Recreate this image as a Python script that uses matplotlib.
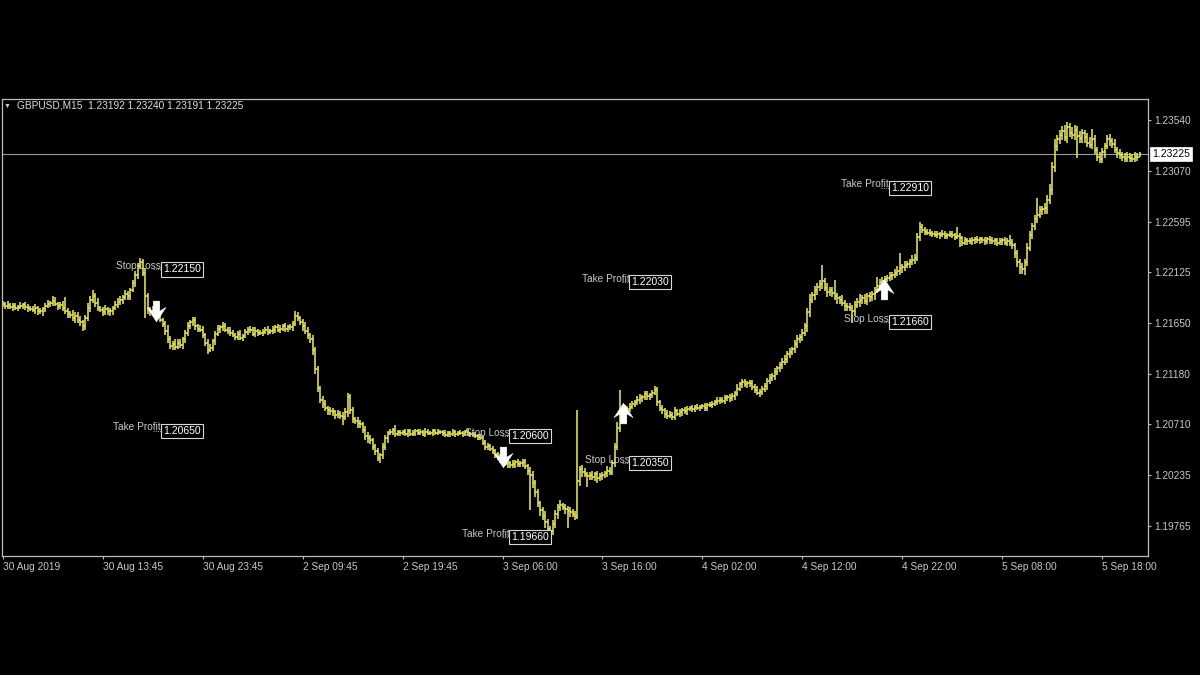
import numpy as np
import matplotlib
matplotlib.use("Agg")
import matplotlib.pyplot as plt
from matplotlib.collections import LineCollection
from matplotlib.path import Path
import matplotlib.transforms as mtransforms

plt.rcParams["font.family"] = ["Liberation Sans", "DejaVu Sans"]

# --- data: GBPUSD M15, prices in pips above 1.19000 ------------------------
BASE = 1.19000
PIP = 0.0001

CLOSE = [
    283, 281, 282, 280, 281, 279, 280, 281, 282, 280, 279, 278, 277, 279, 276, 276, 278, 281, 283, 284,
    286, 283, 281, 282, 279, 276, 274, 273, 270, 272, 268, 266, 262, 270, 279, 287, 290, 284, 279, 277,
    275, 278, 276, 276, 279, 282, 285, 287, 289, 292, 290, 296, 302, 310, 318, 322, 312, 290, 278, 275,
    279, 274, 272, 268, 264, 258, 250, 244, 246, 243, 247, 245, 250, 256, 262, 266, 268, 262, 260, 259,
    254, 247, 240, 242, 248, 255, 260, 261, 262, 259, 258, 256, 254, 252, 255, 251, 253, 257, 259, 259,
    255, 258, 256, 256, 257, 259, 257, 258, 259, 261, 259, 260, 262, 260, 261, 261, 264, 272, 270, 266,
    262, 258, 254, 250, 240, 222, 205, 194, 190, 186, 184, 183, 182, 180, 181, 179, 178, 182, 196, 184,
    176, 174, 172, 171, 166, 160, 158, 156, 150, 146, 140, 142, 150, 158, 163, 164, 166, 162, 164, 163,
    164, 162, 165, 162, 163, 165, 163, 164, 162, 164, 163, 163, 165, 163, 164, 164, 163, 161, 163, 162,
    164, 162, 163, 163, 162, 164, 162, 162, 161, 160, 159, 158, 154, 150, 151, 148, 146, 143, 140, 138,
    136, 134, 135, 133, 134, 136, 134, 135, 136, 132, 128, 124, 116, 108, 98, 91, 86, 80, 74, 72,
    78, 88, 94, 96, 94, 92, 90, 89, 88, 86, 118, 129, 127, 125, 123, 124, 122, 125, 121, 123,
    124, 126, 128, 127, 135, 150, 168, 180, 183, 186, 185, 187, 190, 192, 194, 195, 196, 199, 197, 198,
    200, 203, 192, 186, 184, 181, 179, 180, 178, 183, 181, 182, 184, 183, 185, 186, 185, 187, 186, 187,
    188, 186, 189, 189, 190, 192, 193, 194, 193, 195, 196, 195, 197, 200, 204, 208, 210, 208, 209, 209,
    206, 203, 200, 201, 204, 207, 211, 214, 216, 220, 223, 226, 229, 232, 236, 238, 241, 246, 250, 252,
    256, 262, 275, 287, 291, 296, 299, 301, 304, 298, 294, 296, 293, 290, 288, 287, 284, 281, 280, 279,
    276, 282, 285, 287, 288, 286, 290, 289, 292, 296, 300, 303, 304, 306, 307, 309, 310, 312, 314, 316,
    317, 319, 320, 322, 324, 326, 345, 354, 352, 350, 349, 349, 348, 347, 348, 347, 348, 346, 347, 348,
    347, 345, 346, 344, 340, 342, 341, 341, 342, 343, 342, 343, 342, 341, 343, 342, 341, 342, 340, 341,
    342, 340, 341, 340, 338, 330, 322, 317, 315, 322, 335, 347, 355, 362, 366, 370, 371, 372, 380, 389,
    410, 430, 436, 440, 444, 438, 447, 442, 440, 445, 439, 437, 442, 438, 433, 431, 436, 426, 420, 418,
    424, 430, 436, 434, 432, 426, 423, 421, 420, 418, 420, 419, 418, 420, 419.2, 422.5,
]

WICK_UP = [
    3, 2, 4, 2, 3, 3, 2, 4, 2, 3, 3, 2, 3, 4, 2, 3, 2, 3, 4, 2,
    4, 3, 2, 3, 4, 10, 3, 2, 4, 3, 3, 4, 2, 3, 5, 3, 6, 3, 4, 2,
    3, 4, 2, 3, 2, 4, 3, 3, 2, 4, 3, 2, 3, 4, 3, 4, 3, 4, 3, 2,
    2, 3, 4, 3, 2, 3, 5, 3, 2, 4, 3, 3, 2, 3, 4, 2, 3, 3, 2, 3,
    3, 2, 3, 4, 2, 3, 3, 2, 4, 3, 2, 3, 3, 2, 3, 4, 2, 3, 2, 3,
    2, 3, 2, 3, 3, 2, 3, 2, 3, 2, 3, 3, 2, 3, 2, 3, 3, 4, 3, 2,
    3, 4, 3, 2, 4, 3, 3, 2, 3, 4, 2, 3, 3, 2, 3, 2, 3, 4, 4, 3,
    3, 2, 4, 3, 2, 3, 4, 3, 2, 3, 3, 2, 4, 3, 2, 3, 2, 4, 2, 2,
    2, 3, 2, 2, 3, 2, 2, 3, 2, 4, 3, 2, 2, 2, 3, 2, 2, 3, 2, 2,
    3, 2, 2, 3, 2, 2, 3, 2, 2, 3, 2, 3, 2, 2, 3, 2, 3, 2, 2, 3,
    2, 3, 3, 2, 4, 2, 3, 2, 3, 3, 2, 3, 4, 3, 3, 2, 3, 4, 3, 2,
    4, 3, 3, 5, 2, 3, 3, 4, 3, 2, 66, 3, 4, 3, 2, 3, 4, 2, 3, 3,
    3, 2, 4, 3, 3, 4, 5, 23, 3, 3, 2, 4, 3, 2, 3, 4, 2, 3, 3, 2,
    3, 4, 3, 2, 3, 2, 3, 3, 2, 4, 2, 3, 2, 3, 3, 2, 3, 2, 3, 2,
    2, 3, 2, 3, 3, 2, 3, 2, 2, 3, 2, 3, 3, 2, 4, 2, 3, 3, 2, 3,
    3, 2, 4, 3, 3, 2, 3, 4, 3, 3, 2, 3, 4, 3, 3, 4, 2, 3, 4, 3,
    4, 3, 4, 5, 3, 4, 3, 4, 15, 3, 4, 3, 3, 12, 3, 2, 4, 3, 3, 4,
    3, 4, 3, 5, 3, 4, 3, 4, 3, 3, 8, 3, 4, 3, 3, 4, 3, 3, 4, 14,
    3, 4, 3, 3, 4, 3, 4, 5, 3, 2, 3, 4, 2, 3, 3, 2, 4, 3, 2, 3,
    3, 2, 8, 3, 2, 3, 2, 3, 3, 2, 3, 2, 2, 3, 2, 3, 3, 2, 2, 3,
    2, 3, 3, 6, 3, 2, 3, 3, 4, 3, 5, 4, 3, 4, 15, 4, 3, 5, 4, 5,
    5, 6, 4, 5, 4, 5, 5, 4, 5, 4, 3, 5, 4, 3, 4, 5, 10, 4, 3, 4,
    4, 3, 4, 5, 3, 4, 3, 4, 3, 3, 4, 3, 3, 4, 3, 1.5,
]

WICK_DN = [
    2, 3, 3, 2, 4, 2, 3, 2, 3, 3, 4, 2, 2, 3, 3, 2, 4, 3, 2, 3,
    3, 2, 4, 3, 3, 2, 4, 3, 3, 5, 3, 4, 4, 3, 3, 4, 3, 4, 3, 2,
    3, 2, 3, 4, 3, 2, 3, 3, 4, 2, 3, 3, 2, 3, 4, 3, 3, 20, 4, 3,
    3, 4, 3, 2, 3, 4, 3, 3, 4, 3, 2, 3, 4, 3, 3, 2, 4, 3, 3, 2,
    3, 3, 4, 2, 3, 3, 2, 4, 3, 2, 3, 3, 2, 3, 3, 2, 3, 2, 3, 3,
    2, 3, 3, 2, 3, 2, 3, 2, 3, 3, 2, 3, 2, 3, 3, 2, 3, 2, 3, 3,
    4, 3, 4, 3, 5, 4, 4, 3, 4, 3, 4, 3, 3, 4, 3, 3, 8, 3, 4, 3,
    4, 3, 4, 3, 3, 4, 4, 3, 3, 4, 3, 5, 3, 3, 4, 2, 3, 3, 2, 3,
    2, 2, 3, 2, 2, 3, 2, 2, 2, 3, 2, 2, 3, 2, 2, 2, 3, 2, 2, 3,
    2, 3, 2, 2, 3, 2, 2, 3, 2, 2, 3, 2, 2, 3, 3, 2, 3, 3, 2, 3,
    3, 2, 4, 3, 3, 4, 3, 3, 4, 3, 4, 33, 4, 5, 4, 5, 4, 5, 4, 6,
    4, 3, 5, 4, 3, 4, 15, 4, 3, 4, 3, 4, 5, 3, 10, 4, 3, 4, 5, 3,
    4, 3, 4, 3, 3, 4, 3, 4, 3, 3, 4, 3, 2, 3, 3, 4, 3, 2, 3, 3,
    3, 2, 4, 3, 3, 4, 3, 2, 3, 3, 2, 3, 3, 2, 3, 2, 3, 3, 2, 3,
    2, 3, 3, 2, 3, 2, 3, 3, 2, 3, 2, 3, 2, 3, 3, 2, 3, 2, 3, 3,
    3, 3, 2, 4, 3, 3, 4, 3, 3, 4, 3, 3, 4, 3, 4, 3, 3, 4, 4, 3,
    4, 3, 5, 4, 3, 4, 5, 4, 4, 3, 5, 4, 4, 3, 5, 4, 3, 5, 4, 3,
    11, 4, 3, 5, 4, 3, 4, 4, 3, 5, 3, 4, 3, 4, 3, 3, 4, 3, 3, 4,
    4, 3, 3, 4, 3, 4, 3, 4, 3, 3, 2, 3, 3, 2, 3, 4, 2, 3, 3, 2,
    3, 3, 2, 8, 3, 2, 3, 2, 3, 3, 2, 3, 2, 3, 2, 3, 2, 3, 3, 2,
    3, 2, 3, 3, 4, 4, 5, 6, 4, 5, 4, 3, 4, 3, 4, 3, 4, 4, 5, 4,
    5, 4, 5, 4, 5, 4, 5, 4, 4, 5, 20, 4, 4, 5, 4, 3, 4, 4, 4, 4,
    4, 5, 3, 4, 4, 3, 4, 3, 4, 3, 3, 4, 3, 3, 3, 0.1,
]

FIRST_OPEN = 282

# time axis: one label every 40 bars
TICK_LABELS = ["30 Aug 2019", "30 Aug 13:45", "30 Aug 23:45", "2 Sep 09:45", "2 Sep 19:45",
               "3 Sep 06:00", "3 Sep 16:00", "4 Sep 02:00", "4 Sep 12:00", "4 Sep 22:00",
               "5 Sep 08:00", "5 Sep 18:00"]
PRICE_TICKS = [1.23540, 1.23070, 1.22595, 1.22125, 1.21650, 1.21180, 1.20710, 1.20235, 1.19765]

# stop loss / take profit objects: (bar where the box starts, label, price)
LEVEL_BARS = [63.6, 63.6, 203.2, 203.2, 251.2, 251.2, 355.2, 355.2]
LEVEL_NAMES = ["Stop Loss", "Take Profit", "Stop Loss", "Take Profit",
               "Take Profit", "Stop Loss", "Take Profit", "Stop Loss"]
LEVEL_PRICES = [1.22150, 1.20650, 1.20600, 1.19660, 1.22030, 1.20350, 1.22910, 1.21660]

# trade signals
SIGNAL_BARS = [61.2, 200.0, 248.4, 352.8]
SIGNAL_DIRS = ["down", "down", "up", "up"]
SIGNAL_PRICES = [1.21760, 1.20405, 1.20815, 1.21970]

BID = 1.23225
HEADER = "GBPUSD,M15  1.23192 1.23240 1.23191 1.23225"

# --- build OHLC ------------------------------------------------------------
close = np.array(CLOSE, dtype=float)
opn = np.concatenate([[FIRST_OPEN], close[:-1]])
high = np.maximum(opn, close) + np.array(WICK_UP)
low = np.minimum(opn, close) - np.array(WICK_DN)
close, opn, high, low = [BASE + a * PIP for a in (close, opn, high, low)]
n = len(close)

BAR_COL = "#e4e45c"
TXT_COL = "#c8c8c8"

fig = plt.figure(figsize=(12, 6.75), dpi=100, facecolor="black")
ax = fig.add_axes([2 / 1200, 1 - 556 / 675, 1146 / 1200, 457 / 675])
ax.set_facecolor("black")

segs = []
for i in range(n):
    segs.append([(i, low[i]), (i, high[i])])
    segs.append([(i - 0.5, opn[i]), (i, opn[i])])
    segs.append([(i, close[i]), (i + 0.5, close[i])])
ax.add_collection(LineCollection(segs, colors=BAR_COL, linewidths=1.15))

ax.set_xlim(-0.4, 458.4)
ax.set_ylim(1.194850, 1.237350)

# bid line
ax.axhline(BID, color="#9a9a9a", lw=0.8, zorder=1)
trans = mtransforms.blended_transform_factory(ax.transAxes, ax.transData)
ax.text(1.0035, BID, f"{BID:.5f}", transform=trans, ha="left", va="center", fontsize=7.5,
        color="black", bbox=dict(boxstyle="square,pad=0.2", fc="white", ec="white", lw=0.5),
        clip_on=False)

# SL / TP labels
for xb, name, lvl in zip(LEVEL_BARS, LEVEL_NAMES, LEVEL_PRICES):
    ax.text(xb - 0.4, lvl + 0.3 * PIP, name, ha="right", va="baseline", fontsize=7.3, color=TXT_COL)
    ax.plot([xb - 3.5, xb], [lvl, lvl], ls=(0, (1, 1)), color="#9a9a9a", lw=0.8)
    ax.text(xb + 0.4, lvl, f"{lvl:.5f}", ha="left", va="center", fontsize=7.5, color="white",
            bbox=dict(boxstyle="square,pad=0.2", fc="black", ec="#d8d8d8", lw=0.8))

# arrows
up_verts = [(-0.16, -0.5), (0.16, -0.5), (0.16, -0.02), (0.46, -0.2), (0.0, 0.5),
            (-0.46, -0.2), (-0.16, -0.02), (-0.16, -0.5)]
up_path = Path(up_verts, closed=True)
dn_path = Path([(x, -y) for x, y in up_verts], closed=True)
for xb, d, p in zip(SIGNAL_BARS, SIGNAL_DIRS, SIGNAL_PRICES):
    ax.plot([xb], [p], marker=up_path if d == "up" else dn_path, ms=15,
            color="white", mec="white", mew=0.3, zorder=5)

# axes styling
for s in ax.spines.values():
    s.set_color("#bcbcbc")
    s.set_linewidth(0.9)

ax.yaxis.tick_right()
ax.set_yticks(PRICE_TICKS)
ax.set_yticklabels([f"{v:.5f}" for v in PRICE_TICKS])
ax.tick_params(axis="y", direction="out", length=2.2, width=0.8, colors="#bcbcbc",
               labelcolor=TXT_COL, labelsize=7.3, pad=2.5)

ax.set_xticks(np.arange(len(TICK_LABELS)) * 40)
ax.set_xticklabels(TICK_LABELS)
for lab in ax.get_xticklabels():
    lab.set_horizontalalignment("left")
ax.tick_params(axis="x", direction="out", length=2.2, width=0.8, colors="#bcbcbc",
               labelcolor=TXT_COL, labelsize=7.3, pad=2)

# header
fig.text(4 / 1200, 1 - 106 / 675, "\u25bc", fontsize=5, color=TXT_COL, va="center")
fig.text(17 / 1200, 1 - 106 / 675, HEADER, fontsize=7.3, color="#dcdcdc", va="center")

fig.savefig("out.png", dpi=100, facecolor="black")
